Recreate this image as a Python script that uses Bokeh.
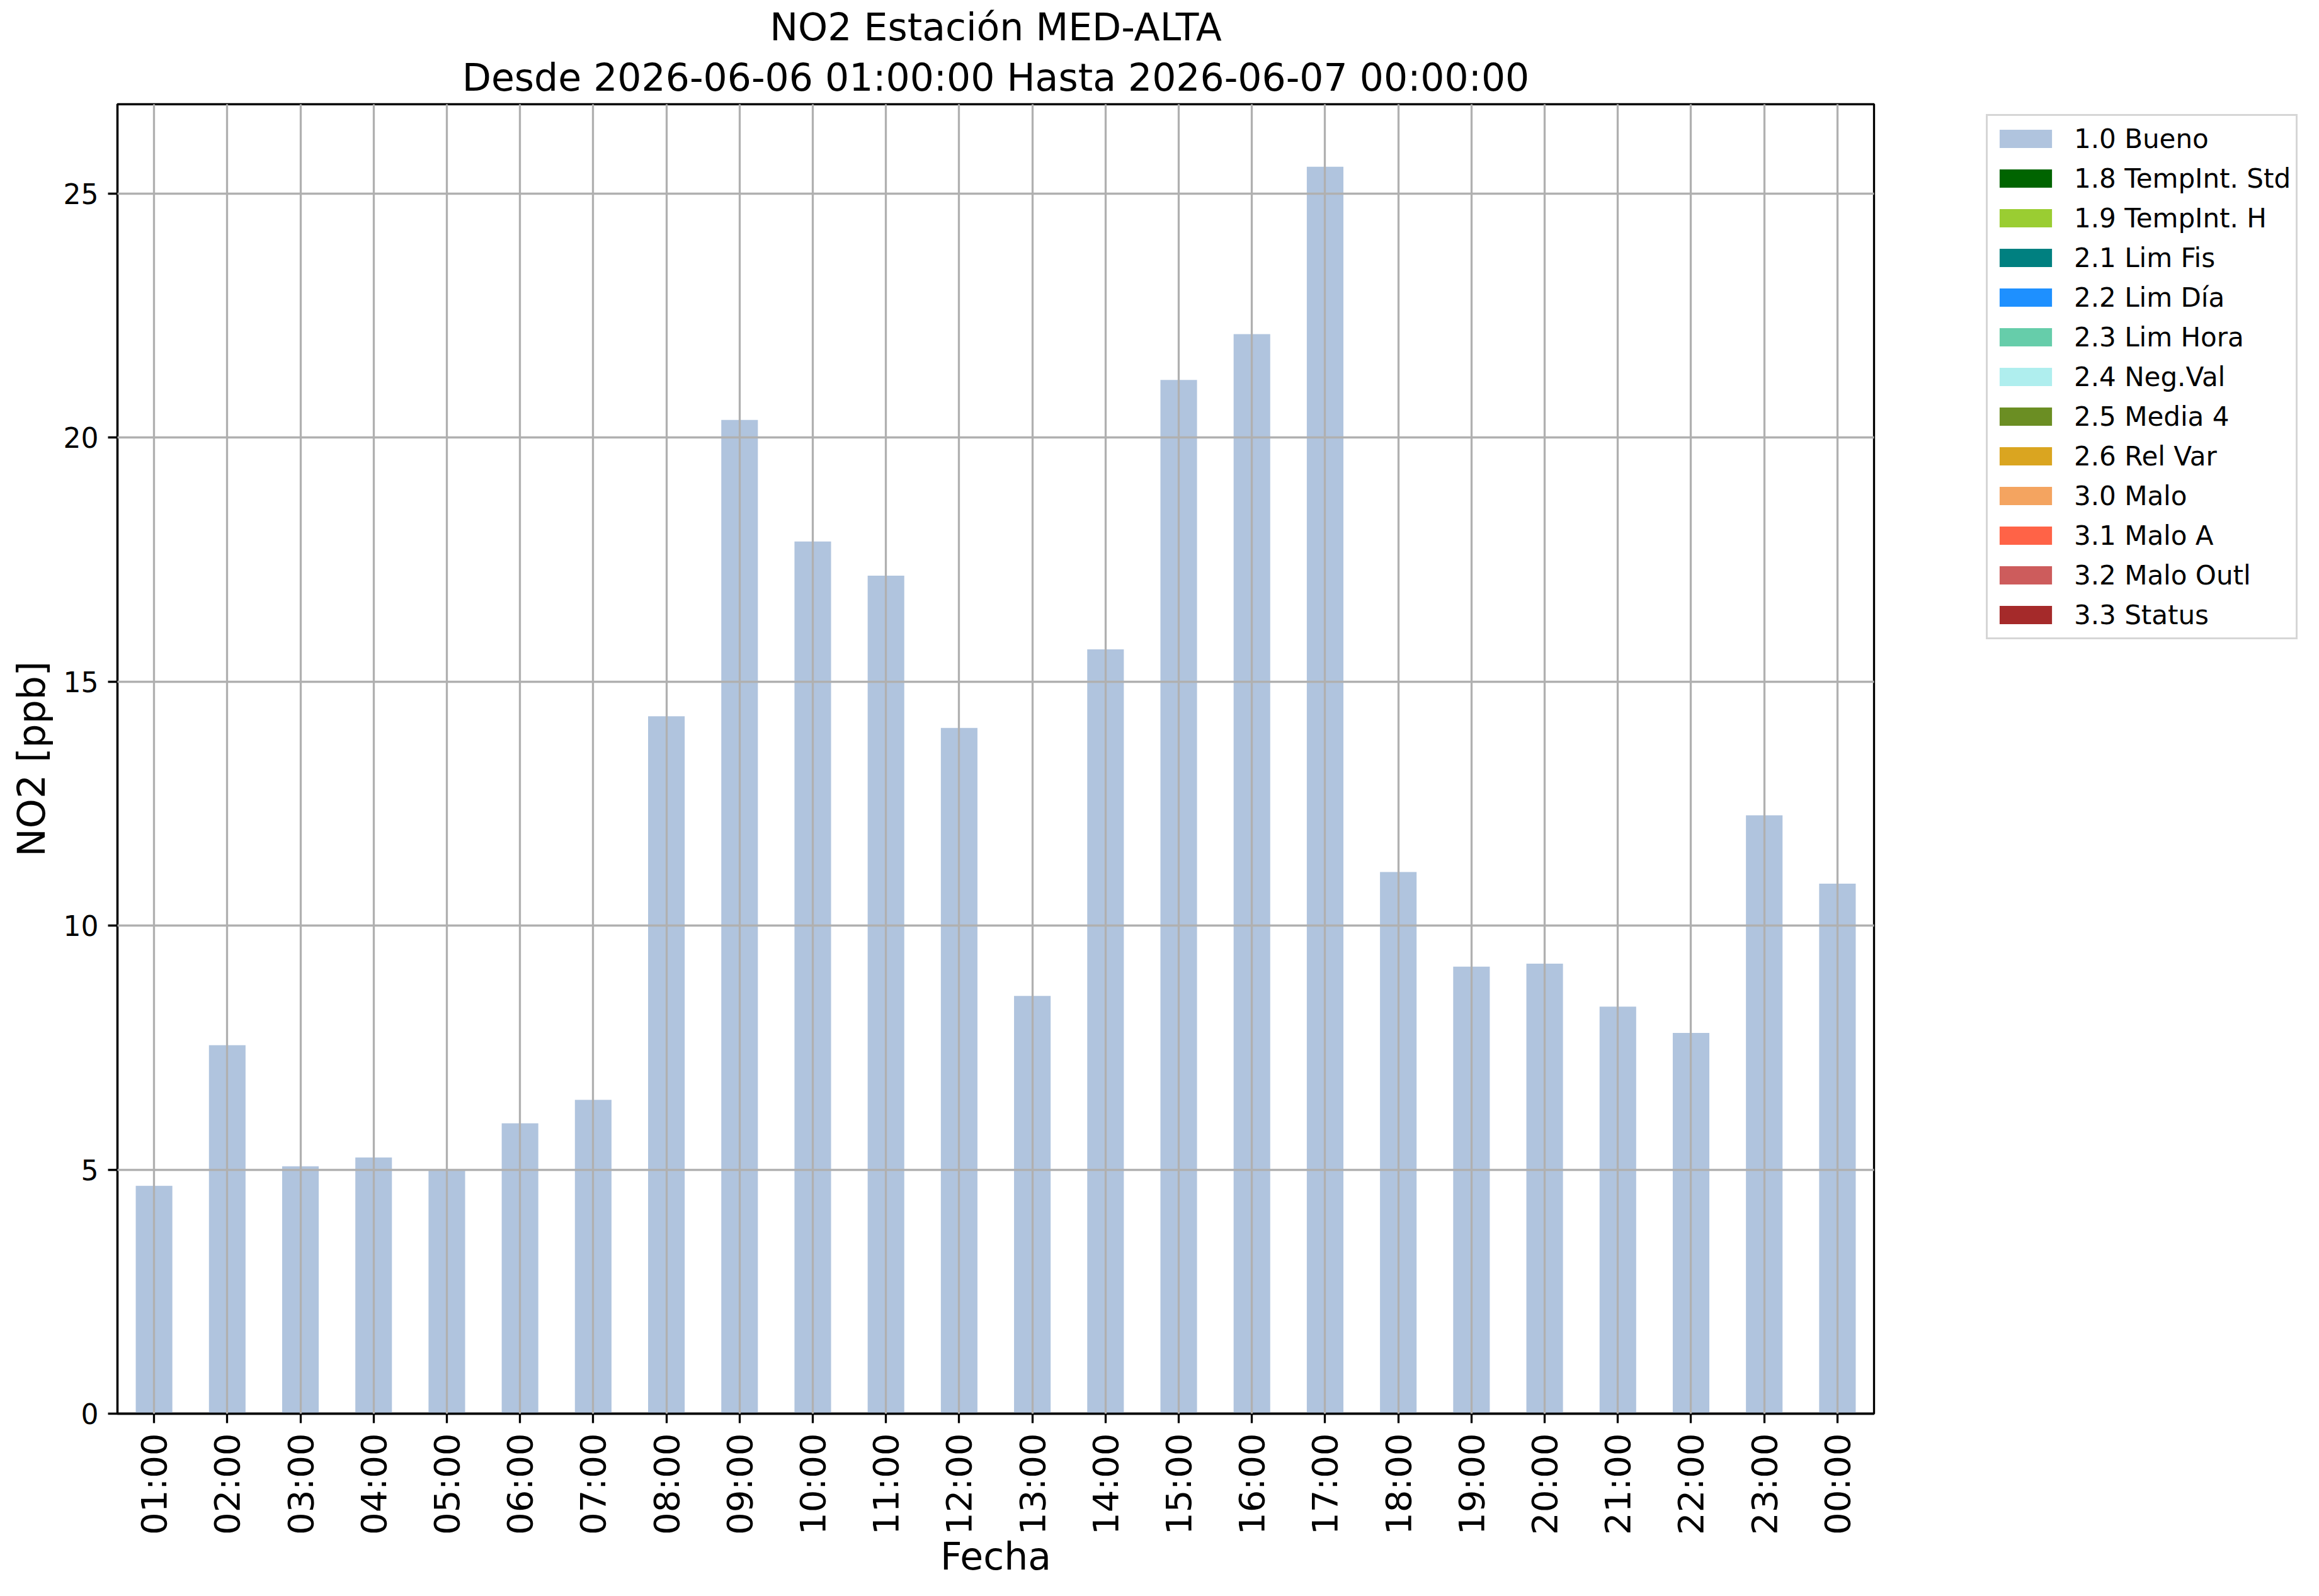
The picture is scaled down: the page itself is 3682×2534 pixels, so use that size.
import math
import numpy as np
from bokeh.plotting import figure
from bokeh.models import (FactorRange, Range1d, FixedTicker, Legend, LegendItem,
                          Title, ColumnDataSource)
from bokeh.embed import file_html
from bokeh.resources import INLINE

# ---------------- data ----------------
hours = ["01:00", "02:00", "03:00", "04:00", "05:00", "06:00", "07:00", "08:00",
         "09:00", "10:00", "11:00", "12:00", "13:00", "14:00", "15:00", "16:00",
         "17:00", "18:00", "19:00", "20:00", "21:00", "22:00", "23:00", "00:00"]
no2_ppb = [4.67, 7.55, 5.07, 5.25, 4.98, 5.95, 6.43, 14.29,
           20.36, 17.87, 17.17, 14.05, 8.56, 15.66, 21.18, 22.12,
           25.55, 11.10, 9.16, 9.22, 8.34, 7.80, 12.26, 10.86]
hour_flags = ["1.0 Bueno"] * 24
flag_labels = ["1.0 Bueno", "1.8 TempInt. Std", "1.9 TempInt. H", "2.1 Lim Fis",
               "2.2 Lim Día", "2.3 Lim Hora", "2.4 Neg.Val", "2.5 Media 4",
               "2.6 Rel Var", "3.0 Malo", "3.1 Malo A", "3.2 Malo Outl", "3.3 Status"]
flag_colors = ["#b0c4de", "#006400", "#9acd32", "#008080", "#1e90ff", "#66cdaa",
               "#afeeee", "#6b8e23", "#daa520", "#f4a460", "#ff6347", "#cd5c5c",
               "#a52a2a"]
y_ticks = [0, 5, 10, 15, 20, 25]
y_max = 26.83
title_line1 = "NO2 Estación MED-ALTA"
title_line2 = "Desde 2026-06-06 01:00:00 Hasta 2026-06-07 00:00:00"
x_label = "Fecha"
y_label = "NO2 [ppb]"

FONT = "DejaVu Sans"
FL, FR, FT, FB = 186, 2975, 165, 2244   # frame edges in page pixels
PAGE_H = 2526

p = figure(frame_width=FR - FL, frame_height=FB - FT,
           x_range=FactorRange(*hours),
           y_range=Range1d(0, y_max), output_backend="svg",
           toolbar_location=None,
           min_border_left=FL, min_border_right=0,
           min_border_top=FT, min_border_bottom=PAGE_H - FB)
p.background_fill_color = "white"
p.border_fill_color = "white"
p.outline_line_color = "black"
p.outline_line_width = 3.3

items = []
for lab, col in zip(flag_labels, flag_colors):
    # one series per quality flag (NaN where the hour has another flag)
    ts = np.array([v if f == lab else np.nan for v, f in zip(no2_ppb, hour_flags)])
    src = ColumnDataSource(data=dict(x=hours, top=ts))
    r = p.vbar(x="x", top="top", width=0.5, bottom=0, source=src,
               fill_color=col, line_color=None)
    items.append(LegendItem(label=lab, renderers=[r]))

# grid (drawn over bars, like the reference)
for g in (p.xgrid, p.ygrid):
    g.grid_line_color = "#b0b0b0"
    g.grid_line_width = 3.3
    g.level = "guide"
p.ygrid.ticker = FixedTicker(ticks=y_ticks)

# axes
p.yaxis.ticker = FixedTicker(ticks=y_ticks)
for ax in (p.xaxis, p.yaxis):
    ax.axis_line_color = "black"
    ax.axis_line_width = 3.3
    ax.major_tick_line_color = "black"
    ax.major_tick_line_width = 3.3
    ax.major_tick_in = 0
    ax.major_tick_out = 15
    ax.minor_tick_line_color = None
    ax.major_label_text_font = FONT
    ax.major_label_text_color = "black"
    ax.axis_label_text_font = FONT
    ax.axis_label_text_font_style = "normal"
    ax.axis_label_text_font_size = "60px"
    ax.axis_label_text_color = "black"

p.xaxis.major_label_orientation = math.pi / 2
p.xaxis.major_label_text_font_size = "56px"
p.xaxis.major_label_standoff = 16
p.xaxis.axis_label = x_label
p.xaxis.axis_label_standoff = -4
p.xaxis.group_text_font_size = "0px"

p.yaxis.major_label_text_font_size = "44px"
p.yaxis.major_label_standoff = 15
p.yaxis.axis_label = y_label
p.yaxis.axis_label_standoff = 13

# titles: p.title is the outer line, the added Title sits next to the frame
p.title.text = title_line1
p.title.align = "center"
p.title.text_font = FONT
p.title.text_font_size = "60px"
p.title.text_font_style = "normal"
p.title.text_color = "black"
p.title.standoff = 0
p.add_layout(Title(text=title_line2, align="center", text_font=FONT,
                   text_font_size="60px", text_font_style="normal",
                   text_color="black", standoff=16), "above")

# legend outside the frame, at the right
legend = Legend(items=items, location=(178, 1229), glyph_width=104,
                glyph_height=36, label_height=56, label_standoff=25,
                spacing=7, padding=8,
                label_text_font=FONT, label_text_font_size="42px",
                label_text_color="black", border_line_color="#cccccc",
                border_line_width=3, border_line_alpha=0.8,
                background_fill_color="white", background_fill_alpha=1.0,
                margin=0)
p.add_layout(legend, "right")

open("out.html", "w").write(file_html(p, INLINE))
